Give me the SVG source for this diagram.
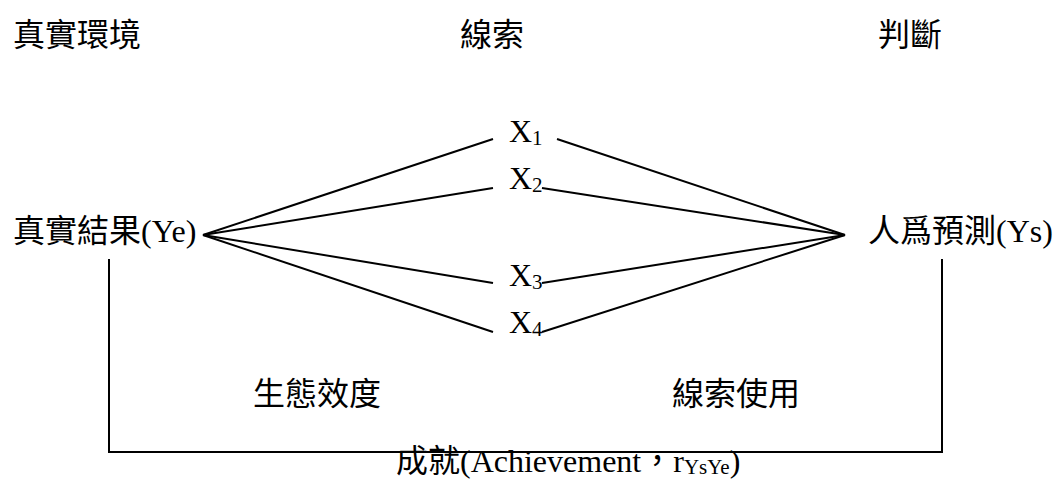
<svg xmlns="http://www.w3.org/2000/svg" width="1055" height="480" viewBox="0 0 1055 480">
<style>
text{font-family:"Liberation Serif","Noto Sans CJK TC",serif;font-size:32px;fill:#000}
.sub{font-size:21px}
.ln{stroke:#000;stroke-width:2;fill:none;stroke-linecap:butt}
</style>
<rect width="1055" height="480" fill="#fff"/>
<g id="headers">
<text x="13" y="46">真實環境</text>
<text x="460" y="46">線索</text>
<text x="878" y="46">判斷</text>
</g>
<g id="node-ye"><text x="13" y="242">真實結果(Ye)</text></g>
<g id="node-ys"><text x="868" y="242">人爲預測(Ys)</text></g>
<g id="node-x1"><text x="509" y="142">X<tspan class="sub" dy="3">1</tspan></text></g>
<g id="node-x2"><text x="509" y="189">X<tspan class="sub" dy="3">2</tspan></text></g>
<g id="node-x3"><text x="509" y="286">X<tspan class="sub" dy="3">3</tspan></text></g>
<g id="node-x4"><text x="509" y="333">X<tspan class="sub" dy="3">4</tspan></text></g>
<g id="connectors">
<line class="ln" x1="203" y1="235" x2="493" y2="139"/>
<line class="ln" x1="203" y1="235" x2="493" y2="188"/>
<line class="ln" x1="203" y1="235" x2="493" y2="283"/>
<line class="ln" x1="203" y1="235" x2="493" y2="332"/>
<line class="ln" x1="557" y1="139" x2="845" y2="235"/>
<line class="ln" x1="542" y1="188" x2="845" y2="235"/>
<line class="ln" x1="542" y1="283" x2="845" y2="235"/>
<line class="ln" x1="542" y1="332" x2="845" y2="235"/>
<polyline class="ln" points="109,259 109,452 942,452 942,259"/>
</g>
<g id="label-ecological"><text x="253" y="405">生態效度</text></g>
<g id="label-cue-use"><text x="672" y="405">線索使用</text></g>
<g id="label-achievement"><text x="396" y="472">成就(Achievement，r<tspan class="sub" dy="2">YsYe</tspan><tspan dy="-2">)</tspan></text></g>
</svg>
